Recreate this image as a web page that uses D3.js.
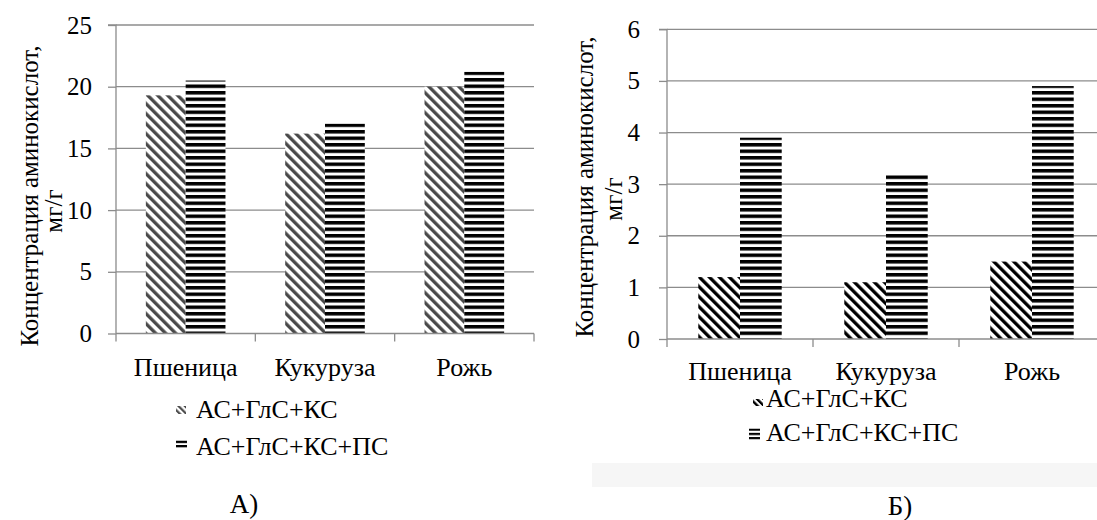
<!DOCTYPE html>
<html><head><meta charset="utf-8">
<script src="https://cdn.jsdelivr.net/npm/d3@7"></script>
<style>
html,body{margin:0;padding:0;background:#fff;}
svg{display:block;}
svg text{font-family:"Liberation Serif","Times New Roman",Tinos,"DejaVu Serif","Noto Serif",serif !important;fill:#000;}
</style></head>
<body>
<svg id="chart" width="1097" height="520"></svg>
<script>
// ---- data ----
const categories = ["Пшеница", "Кукуруза", "Рожь"];
const seriesNames = ["АС+ГлС+КС", "АС+ГлС+КС+ПС"];
const valuesA_s1 = [19.3, 16.2, 20.0];
const valuesA_s2 = [20.5, 17.0, 21.2];
const valuesB_s1 = [1.2, 1.1, 1.5];
const valuesB_s2 = [3.9, 3.2, 4.9];
const ticksA = [0, 5, 10, 15, 20, 25];
const ticksB = [0, 1, 2, 3, 4, 5, 6];
const yTitle = "Концентрация аминокислот,";
const yUnit = "мг/г";
const panelLabels = ["А)", "Б)"];

const svg = d3.select("#chart");
const defs = svg.append("defs");
const FS = 25;
const FS_CAT = 26;
const FONT = '"Liberation Serif","Times New Roman",Tinos,"DejaVu Serif","Noto Serif",serif';

function diagPattern(id, color, w, t) {
  const p = defs.append("pattern").attr("id", id)
    .attr("patternUnits", "userSpaceOnUse")
    .attr("width", w).attr("height", w)
    .attr("patternTransform", "rotate(-45)");
  p.append("rect").attr("width", w).attr("height", w).attr("fill", "#fff");
  p.append("rect").attr("x", 0).attr("width", t).attr("height", w).attr("fill", color);
}
function horizPattern(id, period, thick, y0) {
  const p = defs.append("pattern").attr("id", id)
    .attr("patternUnits", "userSpaceOnUse")
    .attr("y", y0 || 0)
    .attr("width", 10).attr("height", period);
  p.append("rect").attr("width", 10).attr("height", period).attr("fill", "#fff");
  p.append("rect").attr("y", 0).attr("width", 10).attr("height", thick).attr("fill", "#000");
}
diagPattern("diagGray", "#4a4a4a", 7.07, 3.3);
diagPattern("diagBlack", "#000", 7.07, 3.3);
diagPattern("diagGraySm", "#4a4a4a", 4.5, 2.2);
diagPattern("diagBlackSm", "#000", 4.5, 2.4);
horizPattern("horiz", 6.5, 3.5, 0);
horizPattern("mkA", 4.5, 2.6, 440.5);
horizPattern("mkB", 4.3, 2.3, 428.5);

// light gray band under right chart legend (scan artefact)
svg.append("rect").attr("x", 592).attr("y", 463).attr("width", 505).attr("height", 24).attr("fill", "#f6f6f6");

function drawChart(cfg) {
  const g = svg.append("g").attr("font-family", FONT);
  const x = d3.scaleBand().domain(categories).range([cfg.x0, cfg.x1]).paddingInner(0).paddingOuter(0);
  const bw = x.bandwidth();
  const gap = bw * 1.5 / 3.5;
  const xs = d3.scaleBand().domain([0, 1]).range([gap / 2, bw - gap / 2]);
  const y = d3.scaleLinear().domain([cfg.ticks[0], cfg.ticks[cfg.ticks.length - 1]]).range([cfg.y0, cfg.y1]);

  g.append("g").selectAll("line").data(cfg.ticks.slice(1)).join("line")
    .attr("x1", cfg.x0).attr("x2", Math.min(cfg.x1, 1097))
    .attr("y1", d => y(d)).attr("y2", d => y(d))
    .attr("stroke", "#8c8c8c").attr("stroke-width", 1.3);

  const series = [cfg.s1, cfg.s2];
  const fills = [cfg.fill1, "url(#horiz)"];
  series.forEach((vals, si) => {
    g.append("g").selectAll("rect").data(vals).join("rect")
      .attr("x", (d, i) => x(categories[i]) + xs(si))
      .attr("width", xs.bandwidth())
      .attr("y", d => y(d))
      .attr("height", d => y(0) - y(d))
      .attr("fill", fills[si]);
  });

  const ya = g.append("g").attr("transform", `translate(${cfg.x0},0)`)
    .call(d3.axisLeft(y).tickValues(cfg.ticks).tickSize(8).tickPadding(cfg.tickPad).tickFormat(d3.format("d")));
  ya.attr("font-family", FONT);
  ya.selectAll("path,line").attr("stroke", "#8c8c8c").attr("stroke-width", 1.3);
  ya.select(".domain").attr("d", `M-8,${cfg.y1}H0V${cfg.y0}`);
  ya.selectAll("text").attr("font-size", FS).attr("fill", "#000");

  const xa = g.append("g").attr("transform", `translate(0,${cfg.y0})`)
    .call(d3.axisBottom(x).tickSize(0).tickPadding(0));
  xa.attr("font-family", FONT);
  xa.select(".domain").attr("d", `M${cfg.x0},0H${Math.min(cfg.x1, 1097)}`).attr("stroke", "#8c8c8c").attr("stroke-width", 1.3);
  xa.selectAll("text").attr("font-size", FS_CAT).attr("fill", "#000")
    .attr("dy", null).attr("y", cfg.catY);
  const bounds = categories.map(c => x(c)).concat([x.range()[1]]);
  xa.append("g").selectAll("line").data(bounds).join("line")
    .attr("x1", d => d).attr("x2", d => d).attr("y1", 0).attr("y2", 8)
    .attr("stroke", "#8c8c8c").attr("stroke-width", 1.3);

  g.append("text").attr("transform", `translate(${cfg.titleX},${cfg.titleY}) rotate(-90)`)
    .attr("text-anchor", "middle").attr("font-size", FS).text(yTitle);
  g.append("text").attr("transform", `translate(${cfg.unitX},${cfg.unitY}) rotate(-90)`)
    .attr("text-anchor", "middle").attr("font-size", FS).text(yUnit);

  cfg.legend.forEach((L, i) => {
    g.append("rect").attr("x", L.mx).attr("y", L.my).attr("width", L.mw).attr("height", L.mh)
      .attr("fill", L.mfill);
    g.append("text").attr("x", L.tx).attr("y", L.ty).attr("font-size", FS_CAT).text(seriesNames[i]);
  });

  g.append("text").attr("x", cfg.panelX).attr("y", cfg.panelY).attr("text-anchor", "middle")
    .attr("font-size", 27).text(cfg.panel);
}

drawChart({
  x0: 116, x1: 534, y0: 333.5, y1: 25, ticks: ticksA, tickPad: 16,
  s1: valuesA_s1, s2: valuesA_s2, fill1: "url(#diagGray)", catY: 42.5,
  titleX: 38, titleY: 196, unitX: 62, unitY: 211,
  legend: [
    {mx: 176, my: 406, mw: 10, mh: 8, tx: 196, ty: 418, mfill: "url(#diagGraySm)"},
    {mx: 176, my: 440.5, mw: 11, mh: 7, tx: 196, ty: 455, mfill: "url(#mkA)"}
  ],
  panel: panelLabels[0], panelX: 244, panelY: 513
});

drawChart({
  x0: 667, x1: 1105, y0: 339, y1: 29.3, ticks: ticksB, tickPad: 19,
  s1: valuesB_s1, s2: valuesB_s2, fill1: "url(#diagBlack)", catY: 41,
  titleX: 593, titleY: 187, unitX: 622, unitY: 199,
  legend: [
    {mx: 753, my: 399, mw: 10, mh: 7, tx: 766, ty: 407, mfill: "url(#diagBlackSm)"},
    {mx: 749, my: 428.5, mw: 11, mh: 11, tx: 766, ty: 441, mfill: "url(#mkB)"}
  ],
  panel: panelLabels[1], panelX: 900, panelY: 515
});
</script>
</body></html>
